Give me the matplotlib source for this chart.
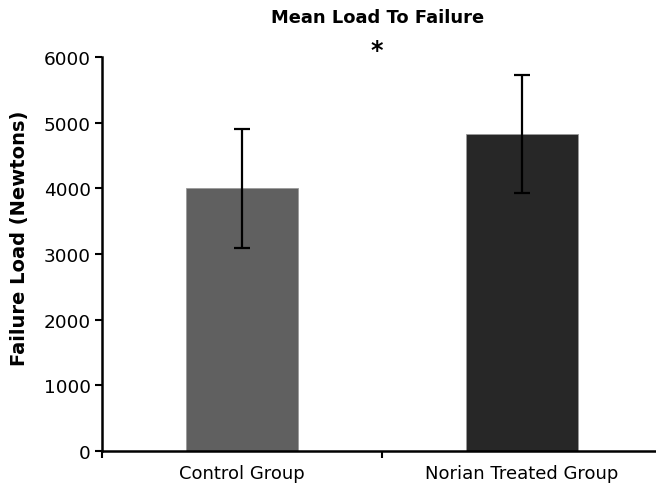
import matplotlib
matplotlib.use("Agg")
import matplotlib.pyplot as plt
import numpy as np

categories = ["Control Group", "Norian Treated Group"]
means = [4000, 4830]
errors = [900, 900]
colors = ["#606060", "#272727"]
yticks = [0, 1000, 2000, 3000, 4000, 5000, 6000]

plt.rcParams['font.family'] = ['DejaVu Sans']
fig = plt.figure(figsize=(6.56, 4.85), dpi=100)
ax = fig.add_axes([0.1555, 0.068, 0.854, 0.812])
x = np.arange(len(categories))
ax.bar(x, means, width=0.4, color=colors, edgecolor="#9a9a9a", linewidth=0.6, zorder=2)
ax.errorbar(x, means, yerr=errors, fmt="none", ecolor="black", elinewidth=1.6,
            capsize=5.5, capthick=1.6, zorder=3)
ax.set_xlim(-0.5, len(categories) - 0.5)
ax.set_ylim(0, 6000)
ax.set_yticks(yticks)
ax.set_yticklabels([str(v) for v in yticks], fontsize=13.3)
ax.set_xticks(x)
ax.set_xticklabels(categories, fontsize=13)
ax.tick_params(axis="x", which="major", length=0, pad=9)
ax.set_xticks(np.arange(len(categories) + 1) - 0.5, minor=True)
ax.tick_params(axis="x", which="minor", length=5, width=1.5, direction="out")
ax.tick_params(axis="y", length=5, width=1.5, direction="out", pad=3)
for s in ["top", "right"]:
    ax.spines[s].set_visible(False)
for s in ["left", "bottom"]:
    ax.spines[s].set_linewidth(1.8)
fig.text(19.5 / 656, 1 - 238 / 485, "Failure Load (Newtons)", rotation=90,
         ha="center", va="center", fontsize=14, fontweight="bold")
fig.text(0.575, 0.962, "Mean Load To Failure", ha="center", va="center",
         fontsize=12.9, fontweight="bold")
fig.text(0.575, 0.895, "*", ha="center", va="center", fontsize=17, fontweight="bold")
fig.savefig("out.png", dpi=100)
